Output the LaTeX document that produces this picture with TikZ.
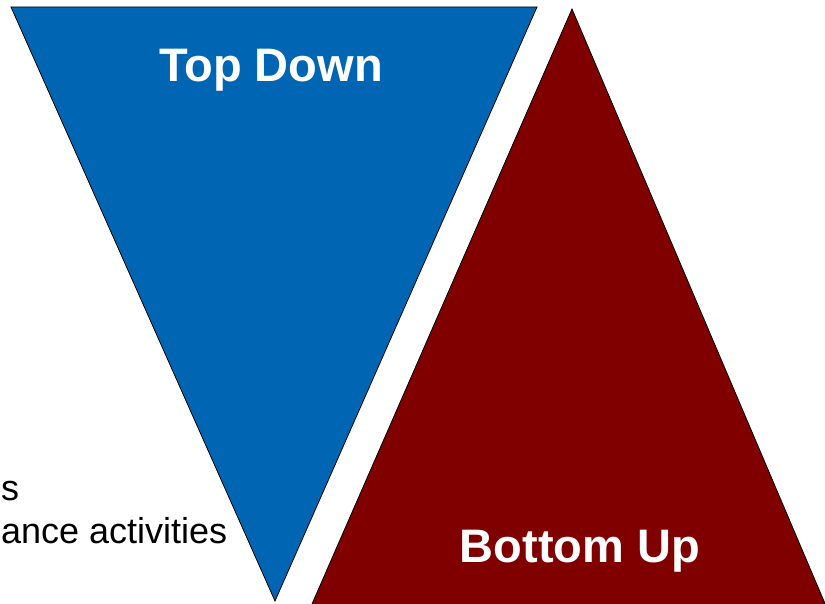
\documentclass[tikz,border=0pt]{standalone}
\usepackage{fontspec}
\setmainfont{Liberation Sans}
\usepackage{xcolor}
\definecolor{topblue}{RGB}{0,102,179}
\definecolor{bottomred}{RGB}{128,0,0}
\tikzset{
	wedge/.style = {draw=black, line width=0.8pt, line join=miter},
	biglabel/.style = {text=white, font=\fontsize{47}{56}\selectfont\bfseries, inner sep=0pt, anchor=base},
	sidetext/.style = {text=black, font=\fontsize{36}{42}\selectfont, inner sep=0pt, anchor=base west}
}

\begin{document}
\begin{tikzpicture}[x=1pt, y=-1pt]
	\useasboundingbox (0,0) rectangle (825,604);
	\clip (0,0) rectangle (825,604);
	
	% top down wedge
	\draw [wedge, fill=topblue] (11,7) -- (537,7) -- (275,601) -- cycle;
	% bottom up wedge, its base lies below the picture
	\draw [wedge, fill=bottomred] (572,9) -- (832,620) -- (305,620) -- cycle;
	
	\node [biglabel] (topdown) at (271,82) {Top Down};
	\node [biglabel] (bottomup) at (580,562) {Bottom Up};
	
	\node [sidetext] (lineone) at (1,500) {s};
	\node [sidetext] (linetwo) at (1,543) {ance activities};
\end{tikzpicture}
\end{document}
